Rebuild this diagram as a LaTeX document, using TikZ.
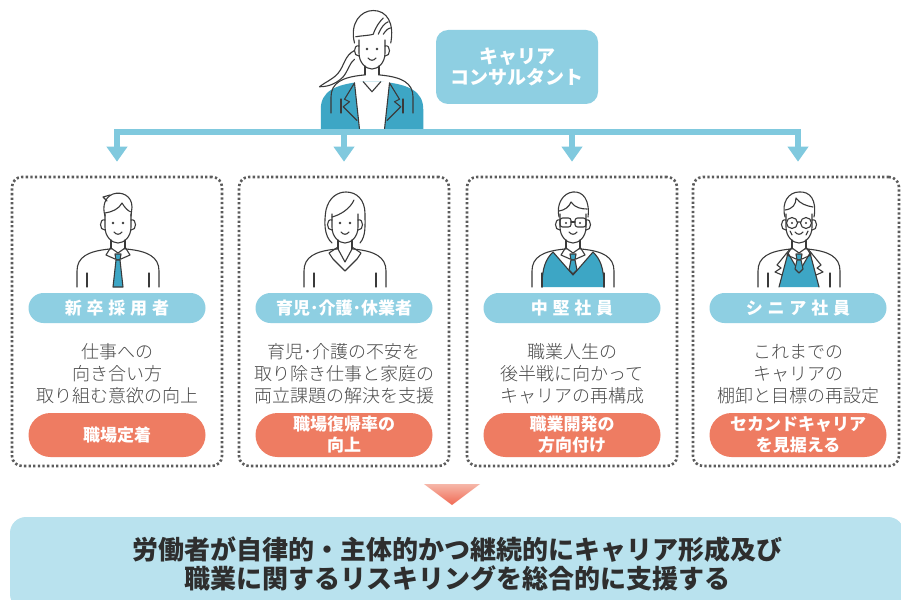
\documentclass[tikz,border=0pt]{standalone}
\usepackage{fontspec}
\usetikzlibrary{arrows.meta}
\newfontfamily\jp{Noto Sans CJK JP}
\IfFontExistsTF{Noto Sans CJK JP Light}
	{\newfontfamily\jplight{Noto Sans CJK JP Light}}
	{\newfontfamily\jplight{Noto Sans CJK JP}}
\definecolor{paleblue}{HTML}{8ECFE2}
\definecolor{barblue}{HTML}{80C9DE}
\definecolor{suitblue}{HTML}{3DA6C5}
\definecolor{coral}{HTML}{EE7C62}
\definecolor{mistblue}{HTML}{B9E2EE}
\definecolor{ink}{HTML}{3A3A3A}
\definecolor{dotgray}{HTML}{5C5C5C}
\definecolor{bodytext}{HTML}{4A4A4A}
\definecolor{headline}{HTML}{2E2E2E}

\begin{document}
\begin{tikzpicture}[x=1pt,y=-1pt,
	icon/.style={draw=ink,line width=1.1pt,line join=round,line cap=round},
	group/.style={draw=dotgray,line width=2.6pt,dash pattern=on 2.3pt off 2.3pt,rounded corners=10pt,minimum width=210pt,minimum height=289pt},
	role/.style={fill=paleblue,text=white,rounded corners=15pt,minimum width=177pt,minimum height=30pt,inner sep=0pt,font=\jp\bfseries\fontsize{17}{20}\selectfont},
	note/.style={text=bodytext,align=center,inner sep=0pt,font=\jplight\fontsize{18}{22}\selectfont},
	aim/.style={fill=coral,text=white,rounded corners=22pt,minimum width=177pt,minimum height=44pt,inner sep=0pt,align=center,font=\jp\bfseries\fontsize{17}{21}\selectfont},
	bus/.style={barblue,line width=6pt},
	feed/.style={barblue,line width=6pt,-{Triangle[width=20pt,length=15pt]},shorten >=14pt},
	torso/.pic={
		\draw[icon] (-8,27) .. controls (-30,29) and (-41,35) .. (-41,49) -- (-41,65);
		\draw[icon] (8,27) .. controls (30,29) and (41,35) .. (41,49) -- (41,65);
		\draw[icon] (-31,51) -- (-31,65) (31,51) -- (31,65);
	},
	face/.pic={
		\draw[icon] (-13,-8) -- (-13,5) .. controls (-13,15) and (-6,21) .. (0,21) .. controls (6,21) and (13,15) .. (13,5) -- (13,-8);
		\draw[icon] (-13,-2) .. controls (-19,-4) and (-19,9) .. (-13,8) (13,-2) .. controls (19,-4) and (19,9) .. (13,8);
		\draw[icon] (-4,10) .. controls (-2,13) and (2,13) .. (4,10);
		\draw[icon] (-7,18) -- (-7,27) (7,18) -- (7,27);
	},
	eyes/.pic={\fill[ink] (-5,1) circle (1.3pt) (5,1) circle (1.3pt);},
	collar/.pic={
		\draw[icon] (-7,25) -- (-12,33) -- (-3,37) (7,25) -- (12,33) -- (3,37) (-7,26) -- (0,31) -- (7,26);
		\filldraw[icon,fill=suitblue] (-3,32) -- (3,32) -- (2,38) -- (-2,38) -- cycle;
	},
	rookie/.pic={
		\pic {torso}; \pic {face}; \pic {eyes}; \pic {collar};
		\draw[icon] (-13,-6) .. controls (-16,-16) and (-13,-25) .. (-5,-28) .. controls (4,-31) and (14,-26) .. (14,-15) -- (13,-6);
		\draw[icon] (-13,-9) .. controls (-6,-10) and (1,-13) .. (4,-19) .. controls (7,-14) and (10,-11) .. (13,-10);
		\draw[icon] (-8,-27) -- (-15,-25) -- (-11,-21);
		\filldraw[icon,fill=suitblue] (-2,38) -- (2,38) -- (5,65) -- (-5,65) -- cycle;
	},
	mom/.pic={
		\pic {torso}; \pic {face}; \pic {eyes};
		\draw[icon] (-13,21) .. controls (-21,14) and (-21,0) .. (-19,-12) .. controls (-16,-25) and (-7,-30) .. (1,-30) .. controls (12,-30) and (20,-22) .. (20,-8) .. controls (20,4) and (21,14) .. (15,21);
		\draw[icon] (-13,-5) .. controls (-5,-7) and (5,-13) .. (9,-22);
		\draw[icon] (-7,25) -- (-16,31) -- (-12,37) -- (0,49) -- (12,37) -- (16,31) -- (7,25);
		\draw[icon] (-7,27) -- (0,40) -- (7,27);
	},
	mid/.pic={
		\fill[suitblue] (-20,30) .. controls (-27,37) and (-31,45) .. (-31,65) -- (31,65) .. controls (31,45) and (27,37) .. (20,30) -- (0,53) -- cycle;
		\draw[icon] (-31,65) .. controls (-31,45) and (-27,37) .. (-20,30) -- (0,53) -- (20,30) .. controls (27,37) and (31,45) .. (31,65);
		\pic {torso}; \pic {face}; \pic {collar};
		\fill[ink] (-7,1) circle (1.2pt) (7,1) circle (1.2pt);
		\draw[icon,rounded corners=2.5pt] (-13,-4) rectangle (-2,5) (2,-4) rectangle (13,5);
		\draw[icon] (-2,0) -- (2,0);
		\draw[icon] (-14,-5) .. controls (-17,-18) and (-10,-29) .. (0,-30) .. controls (10,-31) and (17,-22) .. (15,-5);
		\draw[icon] (-14,-11) .. controls (-8,-12) and (-4,-15) .. (-2,-20) .. controls (2,-14) and (9,-13) .. (14,-13);
		\filldraw[icon,fill=suitblue] (-2,38) -- (2,38) -- (4,48) -- (0,52) -- (-4,48) -- cycle;
	},
	senior/.pic={
		\fill[suitblue] (-11,31) -- (-20,65) -- (20,65) -- (11,31) -- (0,50) -- cycle;
		\draw[icon] (-20,65) -- (-11,31) -- (0,50) -- (11,31) -- (20,65);
		\pic {torso}; \pic {face}; \pic {collar};
		\fill[ink] (-7,1) circle (1.2pt) (7,1) circle (1.2pt);
		\draw[icon] (-7,1) circle (5.5pt) (7,1) circle (5.5pt) (-1.5,0) -- (1.5,0);
		\draw[icon] (-14,-5) .. controls (-18,-20) and (-10,-30) .. (0,-30) .. controls (11,-31) and (18,-22) .. (15,-5);
		\draw[icon] (-14,-12) .. controls (-6,-13) and (-3,-18) .. (-3,-24) .. controls (1,-18) and (8,-16) .. (14,-15);
		\draw[icon] (-9,9) -- (-7,13) (9,9) -- (7,13);
		\draw[icon] (-9,27) -- (-22,43) -- (-18,46) -- (-24,50) -- (-17,53);
		\draw[icon] (9,27) -- (22,43) -- (18,46) -- (24,50) -- (17,53);
		\filldraw[icon,fill=suitblue] (-2,38) -- (2,38) -- (4,47) -- (0,51) -- (-4,47) -- cycle;
	},
	advisor/.pic={
		\filldraw[icon,fill=white] (-14,2) .. controls (-22,6) and (-22,14) .. (-27,20) .. controls (-31,25) and (-37,27) .. (-42,31) .. controls (-34,31) and (-28,28) .. (-23,23) .. controls (-19,18) and (-18,12) .. (-14,9);
		\fill[suitblue] (-8,27) .. controls (-30,29) and (-41,35) .. (-41,49) -- (-41,65) -- (41,65) -- (41,49) .. controls (41,35) and (30,29) .. (8,27) -- cycle;
		\fill[white] (-14,27) -- (-10,65) -- (10,65) -- (14,27) -- cycle;
		\pic {torso};
		\draw[icon] (-14,28) -- (-10,65) (14,28) -- (10,65);
		\draw[icon] (-14,28) -- (-22,41) -- (-18,43) -- (-23,47) -- (-12,58);
		\draw[icon] (14,28) -- (22,41) -- (18,43) -- (23,47) -- (12,58);
		\draw[icon] (-7,27) -- (0,35) -- (7,27);
		\pic {face}; \pic {eyes};
		\draw[icon] (-14,-4) .. controls (-18,-20) and (-9,-30) .. (1,-30) .. controls (12,-30) and (18,-20) .. (15,-4);
		\draw[icon] (-13,-9) .. controls (-7,-10) and (-2,-10) .. (1,-11) .. controls (3,-17) and (6,-21) .. (9,-24);
		\draw[icon] (5,-11) .. controls (7,-16) and (10,-20) .. (13,-21);
		\draw[icon] (9,-11) .. controls (11,-14) and (13,-16) .. (15,-16);
	}]
	\useasboundingbox (0,0) rectangle (901,599);
	\fill[white] (0,0) rectangle (901,599);

	\pic[scale=1.25] at (372,48) {advisor};
	\node[role,rounded corners=12pt,minimum width=162pt,minimum height=74pt,align=center,font=\jp\bfseries\fontsize{19}{21}\selectfont] (cc) at (517,67) {キャリア\\コンサルタント};

	\node[group] (grp1) at (117,321.5) {};
	\node[group] (grp2) at (344,321.5) {};
	\node[group] (grp3) at (572,321.5) {};
	\node[group,minimum width=206pt] (grp4) at (796,321.5) {};

	\pic at (118,222) {rookie};
	\pic at (345,222) {mom};
	\pic at (573,222) {mid};
	\pic at (799,222) {senior};

	\node[role] (role1) at (117,308) {\addfontfeatures{LetterSpace=28}新卒採用者};
	\node[role] (role2) at (344,308) {育児･介護･休業者};
	\node[role] (role3) at (572,308) {\addfontfeatures{LetterSpace=28}中堅社員};
	\node[role] (role4) at (798,308) {\addfontfeatures{LetterSpace=28}シニア社員};

	\node[note] (note1) at (117,374) {仕事への\\向き合い方\\取り組む意欲の向上};
	\node[note] (note2) at (344,374) {育児･介護の不安を\\取り除き仕事と家庭の\\両立課題の解決を支援};
	\node[note] (note3) at (572,374) {職業人生の\\後半戦に向かって\\キャリアの再構成};
	\node[note] (note4) at (798,374) {これまでの\\キャリアの\\棚卸と目標の再設定};

	\node[aim] (aim1) at (117,435) {職場定着};
	\node[aim] (aim2) at (344,435) {職場復帰率の\\向上};
	\node[aim] (aim3) at (572,435) {職業開発の\\方向付け};
	\node[aim] (aim4) at (798,435) {セカンドキャリア\\を見据える};

	\coordinate (bus) at (0,132);
	\draw[bus] ([xshift=-3pt]role1 |- bus) -- ([xshift=3pt]role4 |- bus);
	\foreach \i in {1,...,4}
		\draw[feed] (role\i |- bus) -- (role\i |- grp\i.north);

	\coordinate (flow) at (452,484);
	\shade[top color=coral!55!white,bottom color=coral!85!red] ([xshift=-28pt]flow) -- ([xshift=28pt]flow) -- ([yshift=-21pt]flow) -- cycle;

	\node[fill=mistblue,rounded corners=16pt,minimum width=894pt,minimum height=93pt,align=center,text=headline,font=\jp\bfseries\fontsize{26}{29}\selectfont] (goal) at (457,563.5) {労働者が自律的・主体的かつ継続的にキャリア形成及び\\職業に関するリスキリングを総合的に支援する};
\end{tikzpicture}
\end{document}
